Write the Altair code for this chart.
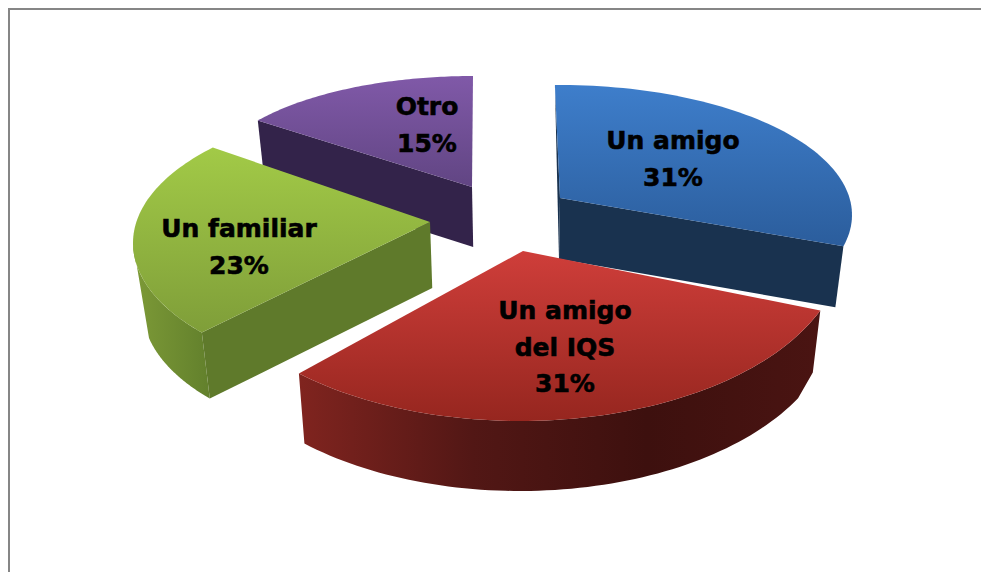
import math
import altair as alt
import pandas as pd

# values
categories = ["Un amigo", "Un amigo del IQS", "Un familiar", "Otro"]
values = [31, 31, 23, 15]
label_lines = [["Un amigo", "31%"], ["Un amigo", "del IQS", "31%"], ["Un familiar", "23%"], ["Otro", "15%"]]

# pie layout (projected position of each exploded slice)
apex_x = [560, 523, 430, 472]
apex_y = [198, 251, 222, 187]
ell_x = [560, 520, 430, 473]
ell_y = [215, 246, 243, 184]
rad_x = [292, 323, 297, 266]
rad_y = [130, 175, 140, 108]
phase = [-1, 0, 7, 0]      # perspective rotation, degrees
sweep = [0.94, 1, 1, 1]    # perspective foreshortening of the angle
depth = [61, 70, 66, 60]
label_x = [673, 565, 239, 427]
label_y = [141, 311, 229, 107]
LINE_H = 36.5
PERSP = 0.975
PERSP_X = 520
RED_EDGE_DEPTH = 62
RED_WALL_FROM = 118
PAGE_W = 973
PAGE_H = 564


def grad_many(colors, horizontal=True):
    n = len(colors) - 1
    return alt.LinearGradient(
        gradient="linear",
        stops=[alt.GradientStop(color=c, offset=i / n) for i, c in enumerate(colors)],
        x1=0, x2=1 if horizontal else 0, y1=0, y2=0 if horizontal else 1,
    )


def grad(c1, c2, horizontal=False):
    return grad_many([c1, c2], horizontal)


x_scale = alt.Scale(domain=[8, 8 + PAGE_W], range=[0, PAGE_W], nice=False, zero=False)
y_scale = alt.Scale(domain=[8 + PAGE_H, 8], nice=False, zero=False)
X = alt.X("x:Q", scale=x_scale, axis=None)
Y = alt.Y("y:Q", scale=y_scale, axis=None)

# slice angle ranges from values
starts = []
acc = 0
for v in values:
    starts.append(acc)
    acc += v


def arc(i, n=70, t_limit=None, t_from=None):
    a0 = starts[i] * 3.6
    a1 = (starts[i] + values[i]) * 3.6
    t0 = a0 + phase[i]
    t1 = t0 + (a1 - a0) * sweep[i]
    if t_limit is not None:
        t1 = min(t1, t_limit)
    if t_from is not None:
        t0 = max(t0, t_from)
    pts = []
    for k in range(n + 1):
        t = math.radians(t0 + (t1 - t0) * k / n)
        pts.append((ell_x[i] + rad_x[i] * math.sin(t), ell_y[i] - rad_y[i] * math.cos(t)))
    return pts


def down(i, p, d=None):
    return (PERSP_X + (p[0] - PERSP_X) * PERSP, p[1] + (depth[i] if d is None else d))


def poly(points, fill):
    df = pd.DataFrame({"x": [p[0] for p in points], "y": [p[1] for p in points], "i": range(len(points))})
    return alt.Chart(df).mark_line(
        fill=fill, interpolate="linear-closed", strokeOpacity=0, strokeWidth=0
    ).encode(x=X, y=Y, order=alt.Order("i:Q"))


layers = []

# Otro (purple)
i = 3
a = arc(i)
ap = (apex_x[i], apex_y[i])
layers.append(poly([a[0], ap, down(i, ap), down(i, a[0])], "#33234a"))
layers.append(poly(a + [ap], grad("#8059a8", "#614583")))

# Un familiar (green)
i = 2
a = arc(i)
ap = (apex_x[i], apex_y[i])
wall_top = arc(i, t_limit=270)
wall_bottom = arc(i, t_limit=258)
layers.append(poly(wall_top + [down(i, p) for p in reversed(wall_bottom)], grad("#7d9a37", "#62802c", True)))
layers.append(poly([a[0], ap, down(i, ap), down(i, a[0])], "#5f7a2b"))
layers.append(poly(a + [ap], grad("#a2ca47", "#7f9e39")))

# Un amigo (blue)
i = 0
a = arc(i)
ap = (apex_x[i], apex_y[i])
layers.append(poly([a[0], ap, down(i, ap)], "#19324f"))
layers.append(poly([a[-1], ap, down(i, ap), down(i, a[-1])], "#19324f"))
layers.append(poly(a + [ap], grad("#3e7ecb", "#2b5d9c")))

# Un amigo del IQS (red)
i = 1
a = arc(i)
ap = (apex_x[i], apex_y[i])
wall_bottom = arc(i, t_from=RED_WALL_FROM)
layers.append(poly(a + [down(i, p) for p in reversed(wall_bottom)] + [down(i, a[0], RED_EDGE_DEPTH)],
                   grad_many(["#80241f", "#521715", "#3d100e", "#4a1412"])))
layers.append(poly(a + [ap], grad("#cf3e3a", "#96261f")))

# labels
lab = []
for i, lines in enumerate(label_lines):
    for j, s in enumerate(lines):
        lab.append({"x": label_x[i], "y": label_y[i] + j * LINE_H, "t": s})
labels = alt.Chart(pd.DataFrame(lab)).mark_text(
    font="DejaVu Sans", fontWeight="bold", fontSize=25, color="#000000", align="center", baseline="middle",
    stroke="#000000", strokeWidth=0.6
).encode(x=X, y=Y, text="t:N")

# chart frame
frame_top = alt.Chart(pd.DataFrame({"x": [8], "x2": [8 + PAGE_W], "y": [9]})).mark_rule(color="#868686", strokeWidth=2).encode(
    x=X, x2="x2:Q", y=Y)
frame_left = alt.Chart(pd.DataFrame({"x": [9], "y": [9], "y2": [8 + PAGE_H]})).mark_rule(color="#868686", strokeWidth=2).encode(
    x=X, y=Y, y2="y2:Q")

chart = alt.layer(frame_top, frame_left, *layers, labels).properties(
    width=PAGE_W, height=PAGE_H, padding=0, autosize=alt.AutoSizeParams(type="none")
).configure_view(stroke=None)

chart.save("out.html", embed_options={"renderer": "svg", "actions": False})
